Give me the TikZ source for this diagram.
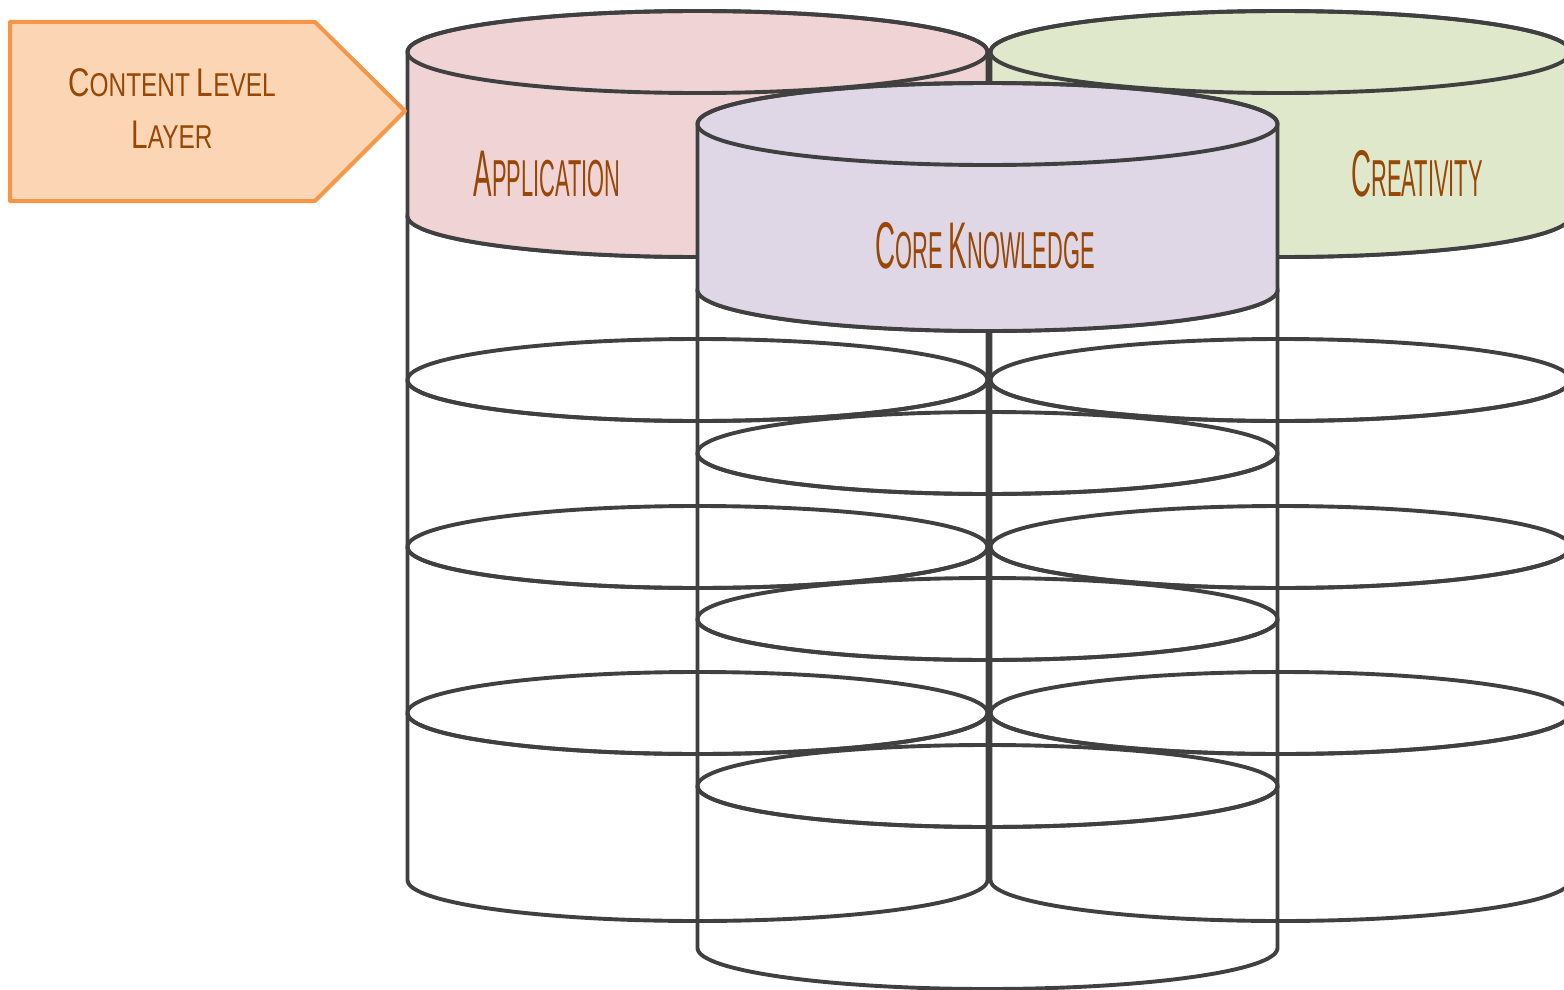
\documentclass[tikz,border=0pt]{standalone}
\usepackage{fontspec}
\setmainfont{Liberation Sans}
\definecolor{edgegray}{HTML}{404040}
\definecolor{labelbrown}{HTML}{974706}
\definecolor{appfill}{HTML}{F0D3D4}
\definecolor{creafill}{HTML}{DFE8CB}
\definecolor{corefill}{HTML}{DFD6E6}
\definecolor{tagfill}{HTML}{FCD5B4}
\definecolor{tagedge}{HTML}{F79646}

% fake small caps: first letter large, rest smaller
\newcommand{\fsc}[4]{{\fontsize{#1}{#1}\selectfont #3}{\fontsize{#2}{#2}\selectfont #4}}

% open (unfilled) cylinder: centre x, top y, bottom y
\newcommand{\opencyl}[3]{%
  \draw[cylline] (#1-290,#2) -- (#1-290,#3)
    arc[start angle=180,end angle=0,x radius=290,y radius=41] -- (#1+290,#2);
  \draw[cylline] (#1,#2) ellipse[x radius=290,y radius=41];}

% filled cylinder: centre x, top y, bottom y, fill colour
\newcommand{\fillcyl}[4]{%
  \filldraw[cylline,fill=#4] (#1-290,#2) -- (#1-290,#3)
    arc[start angle=180,end angle=0,x radius=290,y radius=41] -- (#1+290,#2)
    arc[start angle=0,end angle=-180,x radius=290,y radius=41] -- cycle;
  \draw[cylline] (#1,#2) ellipse[x radius=290,y radius=41];}

\begin{document}
\begin{tikzpicture}[x=1pt,y=-1pt,
  cylline/.style={draw=edgegray,line width=3.9pt,line join=round},
  tagshape/.style={draw=tagedge,fill=tagfill,line width=4pt,line join=round},
  label/.style={text=labelbrown,inner sep=0pt,anchor=base},
  smalllabel/.style={label,font=\fontsize{33}{33}\selectfont},
  biglabel/.style={label,font=\fontsize{52}{52}\selectfont}]
\useasboundingbox (0,0) rectangle (1564,990);

% lower open cylinders of the Application and Creativity stacks
\foreach \t/\b in {216/380,380/547,547/713,713/880}{
  \opencyl{697.5}{\t}{\b}
  \opencyl{1280.5}{\t}{\b}
}
% lower open cylinders of the Core Knowledge stack
\foreach \t/\b in {290/453,453/619,619/786,786/948}{
  \opencyl{987.5}{\t}{\b}
}

% coloured top cylinders
\fillcyl{697.5}{52}{216}{appfill}
\fillcyl{1280.5}{52}{216}{creafill}
\fillcyl{987.5}{124}{290}{corefill}

% layer tag
\coordinate (tagA) at (10,22);
\coordinate (tagB) at (315,22);
\coordinate (tagTip) at (405,111);
\coordinate (tagC) at (315,201);
\coordinate (tagD) at (10,201);
\draw[tagshape] (tagA) -- (tagB) -- (tagTip) -- (tagC) -- (tagD) -- cycle;

% labels
\node[smalllabel] (lvl1) at (172,96) {\scalebox{0.74}[1]{\fsc{40}{33}{C}{ONTENT} \fsc{40}{33}{L}{EVEL}}};
\node[smalllabel] (lvl2) at (172,148) {\scalebox{0.74}[1]{\fsc{40}{33}{L}{AYER}}};
\node[biglabel] (app) at (547,196) {\scalebox{0.42}[1]{\fsc{66}{52}{A}{PPLICATION}}};
\node[biglabel] (crea) at (1417,196) {\scalebox{0.42}[1]{\fsc{66}{52}{C}{REATIVITY}}};
\node[biglabel] (core) at (985,268) {\scalebox{0.42}[1]{\fsc{66}{52}{C}{ORE} \fsc{66}{52}{K}{NOWLEDGE}}};
\end{tikzpicture}
\end{document}
